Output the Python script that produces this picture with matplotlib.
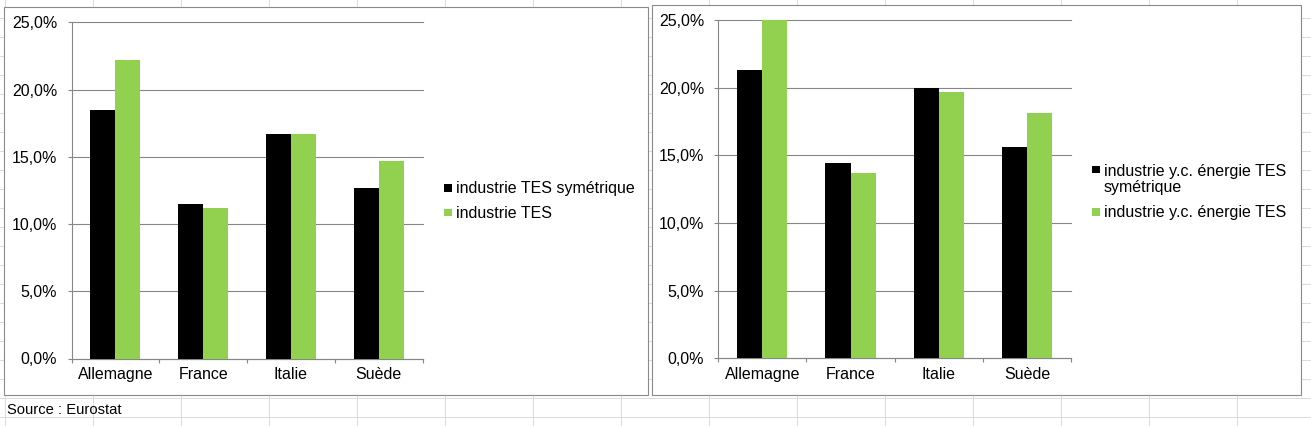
import matplotlib
matplotlib.use("Agg")
import matplotlib.pyplot as plt
import numpy as np
from matplotlib.patches import Rectangle
from matplotlib.lines import Line2D
from matplotlib.ticker import FixedLocator, FuncFormatter

plt.rcParams["font.family"] = ["Liberation Sans", "DejaVu Sans"]

# ---------------- data ----------------
categories = ["Allemagne", "France", "Italie", "Suède"]
left_sym = [18.5, 11.5, 16.7, 12.7]      # industrie TES symétrique (%)
left_tes = [22.2, 11.2, 16.7, 14.7]      # industrie TES (%)
right_sym = [21.3, 14.4, 20.0, 15.6]     # industrie y.c. énergie TES symétrique (%)
right_tes = [25.0, 13.7, 19.7, 18.1]     # industrie y.c. énergie TES (%)
left_labels = ["industrie TES symétrique", "industrie TES"]
right_labels = ["industrie y.c. énergie TES\nsymétrique", "industrie y.c. énergie TES"]
yticks = [0, 5, 10, 15, 20, 25]
source_text = "Source : Eurostat"

# ---------------- style ----------------
W, H = 1311, 426
BLACK = "#000000"
GREEN = "#92D050"
AXGRAY = "#868686"
SHEETGRAY = "#DADCDD"
FS = 11.5
LINE_PX = 18.4

fig = plt.figure(figsize=(W / 100, H / 100), dpi=100)
fig.patch.set_facecolor("white")


def fx(px):
    return px / W


def fy(py):
    return 1 - py / H


# spreadsheet background grid
for k in range(16):
    x = 4.6 + 88 * k
    if x <= W:
        fig.add_artist(Line2D([fx(x), fx(x)], [0, 1], transform=fig.transFigure,
                              color=SHEETGRAY, lw=0.75, zorder=-3))
for k in range(22):
    y = 18.3 + 19 * k
    fig.add_artist(Line2D([0, 1], [fy(y), fy(y)], transform=fig.transFigure,
                          color=SHEETGRAY, lw=0.75, zorder=-3))


def frame(x0, y0, x1, y1):
    fig.add_artist(Rectangle((fx(x0), fy(y1)), (x1 - x0) / W, (y1 - y0) / H,
                             transform=fig.transFigure, facecolor="white",
                             edgecolor="#8A8A8A", lw=0.8, zorder=-2))


def pct(v, pos=None):
    return f"{v:.1f}%".replace(".", ",")


def chart(box, s1, s2):
    x0, y0, x1, y1 = box
    ax = fig.add_axes([fx(x0), fy(y1), (x1 - x0) / W, (y1 - y0) / H])
    ax.set_facecolor("white")
    x = np.arange(len(categories))
    w = 0.285
    ax.bar(x - w / 2, s1, w, color=BLACK, zorder=3)
    ax.bar(x + w / 2, s2, w, color=GREEN, zorder=3)
    ax.set_xlim(-0.5, len(categories) - 0.5)
    ax.set_ylim(0, 25)
    ax.yaxis.set_major_locator(FixedLocator(yticks))
    ax.yaxis.set_major_formatter(FuncFormatter(pct))
    ax.set_axisbelow(True)
    ax.grid(axis="y", color=AXGRAY, lw=0.8)
    for gl in ax.get_ygridlines():
        gl.set_clip_on(False)
    for s in ["top", "right"]:
        ax.spines[s].set_visible(False)
    for s in ["left", "bottom"]:
        ax.spines[s].set_color(AXGRAY)
        ax.spines[s].set_linewidth(0.8)
    ax.set_xticks(x)
    ax.set_xticklabels(categories)
    ax.set_xticks(np.arange(-0.5, len(categories)), minor=True)
    ax.tick_params(axis="x", which="major", length=0, pad=6.3, labelsize=FS, labelcolor=BLACK)
    ax.tick_params(axis="x", which="minor", length=3.2, width=0.8, color=AXGRAY, direction="out")
    ax.tick_params(axis="y", length=3.2, width=0.8, color=AXGRAY, pad=7.0, labelsize=FS,
                   labelcolor=BLACK)
    return ax


def legend(labels, mx, tx, baselines):
    for lab, col, b in zip(labels, [BLACK, GREEN], baselines):
        fig.add_artist(Rectangle((fx(mx), fy(b - 1)), 7.5 / W, 7.5 / H,
                                 transform=fig.transFigure, facecolor=col,
                                 edgecolor="none", zorder=2))
        # va="baseline" anchors the last line of a wrapped label
        nl = lab.count("\n")
        fig.text(fx(tx), fy(b + nl * LINE_PX), lab, ha="left", va="baseline",
                 fontsize=FS, color=BLACK, linespacing=LINE_PX / (FS * 100 / 72))


# left chart
frame(4.3, 7.3, 648.3, 395)
chart((71.5, 22.3, 422.5, 358.5), left_sym, left_tes)
legend(left_labels, 444, 456, [192.5, 217.5])

# right chart
frame(651.7, 5, 1300.5, 395)
chart((718.2, 20, 1071, 358.3), right_sym, right_tes)
legend(right_labels, 1092, 1103.7, [174, 216.7])

fig.text(fx(7.3), fy(414), source_text, ha="left", va="baseline", fontsize=10.6, color=BLACK)

fig.savefig("out.png", dpi=100, facecolor="white")
